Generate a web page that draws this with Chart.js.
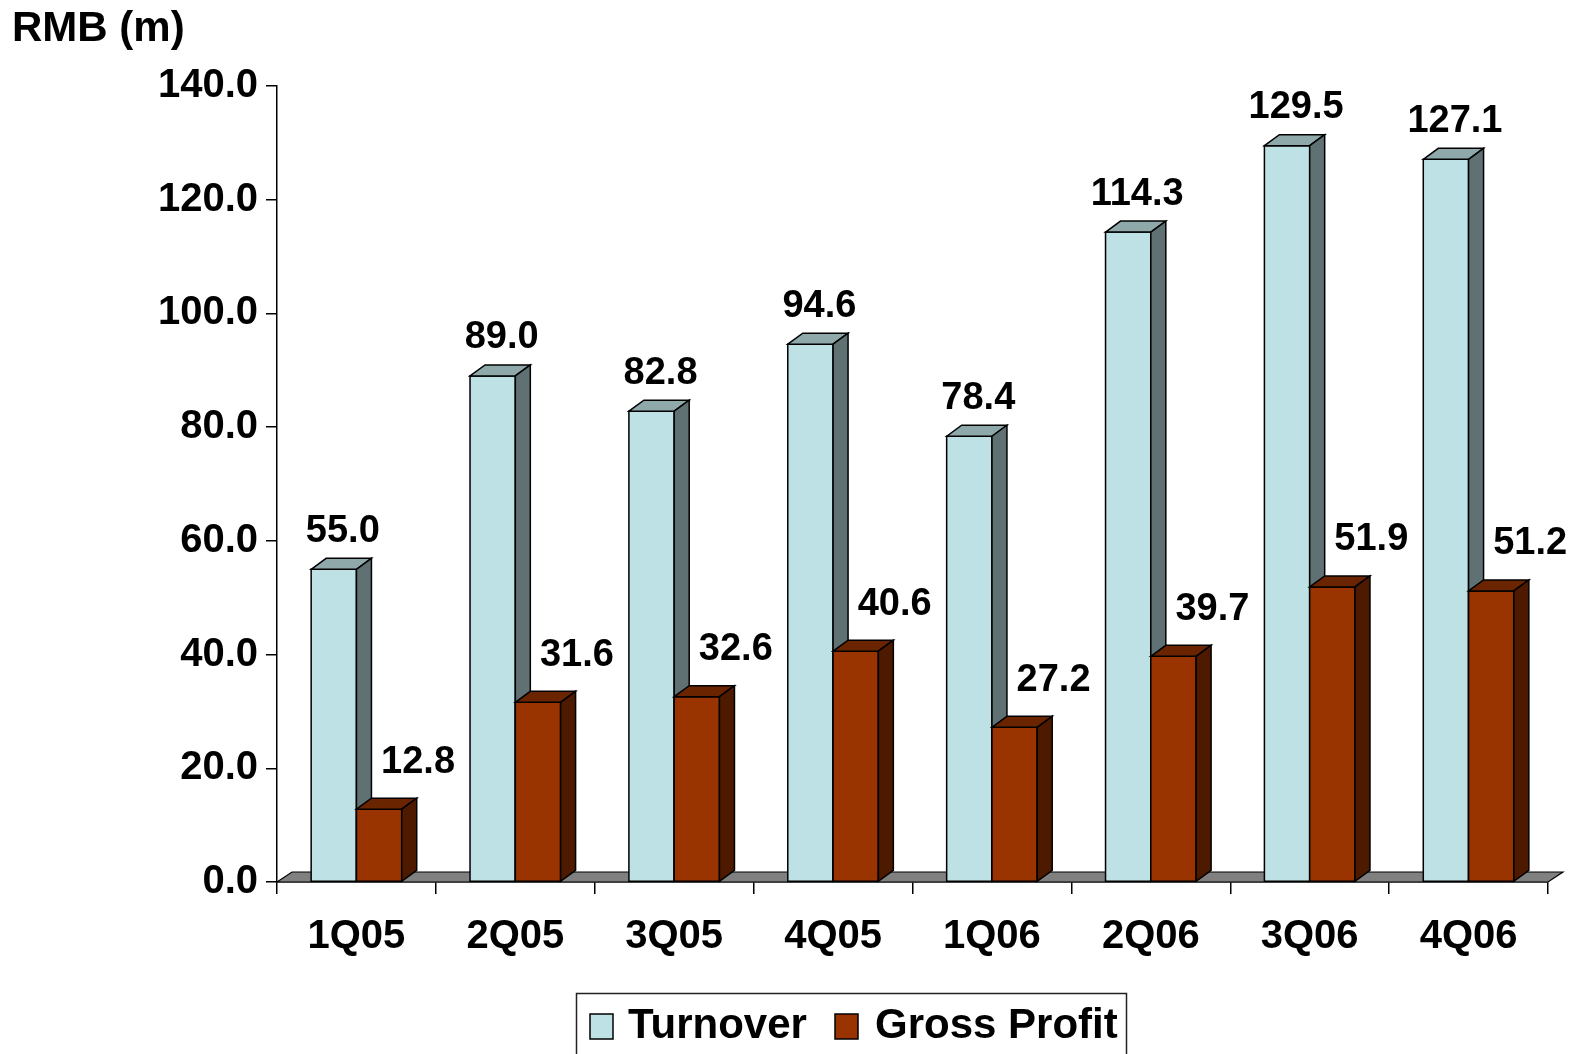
<!DOCTYPE html>
<html>
<head>
<meta charset="utf-8">
<script src="https://cdn.jsdelivr.net/npm/chart.js@4.4.0/dist/chart.umd.min.js"></script>
<style>
  html, body { margin: 0; padding: 0; background: #fff; overflow: hidden; }
  #wrap { width: 1579px; height: 1054px; }
</style>
</head>
<body>
<div id="wrap"><canvas id="chart" width="1579" height="1054"></canvas></div>
<script>
// --- data ---
const quarters = ['1Q05', '2Q05', '3Q05', '4Q05', '1Q06', '2Q06', '3Q06', '4Q06'];
const turnover = [55.0, 89.0, 82.8, 94.6, 78.4, 114.3, 129.5, 127.1];
const grossProfit = [12.8, 31.6, 32.6, 40.6, 27.2, 39.7, 51.9, 51.2];
const seriesNames = ['Turnover', 'Gross Profit'];
const yMax = 140;
const yStep = 20;
const unitTitle = 'RMB (m)';

// 3D look
const DX = 15, DY = 11;
const FONT = '"Liberation Sans", Arial, sans-serif';
const faces = [
    { front: '#BDE1E4', top: '#8FA9AB', side: '#5F7173' },
    { front: '#993300', top: '#6B2400', side: '#4D1A00' }
];
// label offsets per series (from bar centre / bar top)
const labelOffset = [{ x: 9, y: 38 }, { x: 39, y: 47 }];

function poly(ctx, pts, fill) {
    ctx.beginPath();
    ctx.moveTo(pts[0][0], pts[0][1]);
    for (let k = 1; k < pts.length; k++) ctx.lineTo(pts[k][0], pts[k][1]);
    ctx.closePath();
    ctx.fillStyle = fill;
    ctx.fill();
    ctx.stroke();
}

const bars3d = {
    id: 'bars3d',
    beforeDatasetsDraw(chart) {
        // grey floor under the bars
        const ctx = chart.ctx;
        const { left, right } = chart.chartArea;
        const y0 = chart.scales.y.getPixelForValue(0);
        ctx.save();
        ctx.strokeStyle = '#000';
        ctx.lineWidth = 1.2;
        poly(ctx, [[left, y0], [left + DX, y0 - DY + 1], [right + DX, y0 - DY + 1], [right, y0]], '#808080');
        ctx.restore();
    },
    afterDatasetsDraw(chart) {
        const ctx = chart.ctx;
        ctx.save();
        ctx.strokeStyle = '#000';
        ctx.lineWidth = 1.5;
        for (let i = 0; i < quarters.length; i++) {
            chart.data.datasets.forEach((ds, d) => {
                const el = chart.getDatasetMeta(d).data[i];
                const { x, y, base, width } = el.getProps(['x', 'y', 'base', 'width'], true);
                const l = x - width / 2, r = x + width / 2;
                const f = faces[d];
                poly(ctx, [[l, y], [r, y], [r, base], [l, base]], f.front);
                poly(ctx, [[l, y], [l + DX, y - DY], [r + DX, y - DY], [r, y]], f.top);
                poly(ctx, [[r, y], [r + DX, y - DY], [r + DX, base - DY], [r, base]], f.side);
            });
        }
        // value labels
        ctx.fillStyle = '#000';
        ctx.font = 'bold 38px ' + FONT;
        ctx.textAlign = 'center';
        ctx.textBaseline = 'middle';
        chart.data.datasets.forEach((ds, d) => {
            chart.getDatasetMeta(d).data.forEach((el, i) => {
                const { x, y } = el.getProps(['x', 'y'], true);
                ctx.fillText(ds.data[i].toFixed(1), x + labelOffset[d].x, y - labelOffset[d].y);
            });
        });
        ctx.restore();
    },
    afterDraw(chart) {
        const ctx = chart.ctx;
        ctx.save();
        // unit title
        ctx.fillStyle = '#000';
        ctx.font = 'bold 42px ' + FONT;
        ctx.textAlign = 'left';
        ctx.textBaseline = 'middle';
        ctx.fillText(unitTitle, 12, 29);

        // legend box
        ctx.strokeStyle = '#222';
        ctx.lineWidth = 1.5;
        ctx.strokeRect(576.5, 993.5, 550, 80);
        ctx.font = 'bold 42px ' + FONT;
        ctx.textBaseline = 'alphabetic';
        const sqX = [590, 835];
        const txX = [628, 875];
        chart.data.datasets.forEach((ds, d) => {
            ctx.fillStyle = faces[d].front;
            ctx.fillRect(sqX[d], 1014, 23, 25);
            ctx.strokeStyle = '#000';
            ctx.lineWidth = 1.5;
            ctx.strokeRect(sqX[d], 1014, 23, 25);
            ctx.fillStyle = '#000';
            ctx.fillText(ds.label, txX[d], 1038);
        });
        ctx.restore();
    }
};

new Chart(document.getElementById('chart'), {
    type: 'bar',
    data: {
        labels: quarters,
        datasets: [
            { label: seriesNames[0], data: turnover, backgroundColor: faces[0].front, borderWidth: 0 },
            { label: seriesNames[1], data: grossProfit, backgroundColor: faces[1].front, borderWidth: 0 }
        ]
    },
    options: {
        responsive: false,
        animation: false,
        devicePixelRatio: 1,
        layout: { padding: { top: 86, right: 31, bottom: 92, left: 0 } },
        datasets: { bar: { categoryPercentage: 0.57, barPercentage: 1.0 } },
        plugins: { legend: { display: false }, tooltip: { enabled: false }, title: { display: false } },
        scales: {
            x: {
                afterFit(s) { s.height = 80; },
                grid: { offset: true, drawOnChartArea: false, tickLength: 12, color: '#000', lineWidth: 1.5 },
                border: { display: true, color: '#000', width: 1.5 },
                ticks: { color: '#000', padding: 19, font: { family: FONT, size: 40, weight: 'bold' } }
            },
            y: {
                min: 0,
                max: yMax,
                afterFit(s) { s.width = 277; },
                grid: { drawOnChartArea: false, tickLength: 11, color: '#000', lineWidth: 1.5 },
                border: { display: true, color: '#000', width: 1.5 },
                ticks: {
                    stepSize: yStep,
                    color: '#000',
                    padding: 8,
                    font: { family: FONT, size: 40, weight: 'bold' },
                    callback: v => v.toFixed(1)
                }
            }
        }
    },
    plugins: [bars3d]
});
</script>
</body>
</html>
